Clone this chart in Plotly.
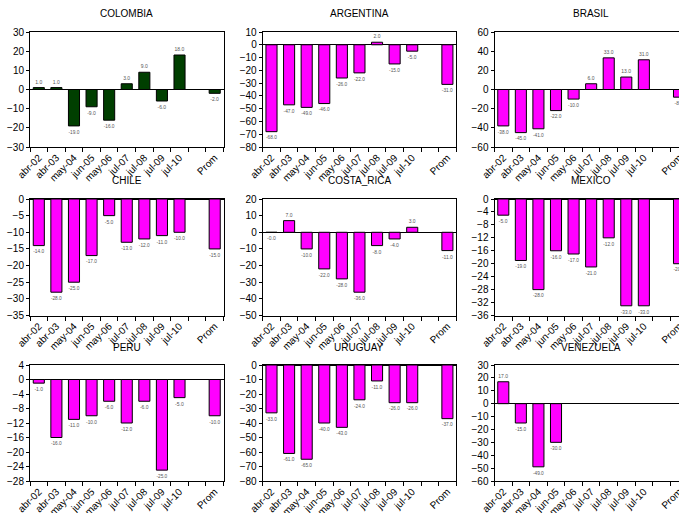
import plotly.graph_objects as go

# categorias (la vacia deja el hueco antes del promedio)
cats = ["abr-02", "abr-03", "may-04", "jun-05", "may-06", "jul-07", "jul-08", "jul-09", "jul-10", " ", "Prom"]

colombia = [1.0, 1.0, -19.0, -9.0, -16.0, 3.0, 9.0, -6.0, 18.0, None, -2.0]
argentina = [-68.0, -47.0, -49.0, -46.0, -26.0, -22.0, 2.0, -15.0, -5.0, None, -31.0]
brasil = [-38.0, -45.0, -41.0, -22.0, -10.0, 6.0, 33.0, 13.0, 31.0, None, -8.0]
chile = [-14.0, -28.0, -25.0, -17.0, -5.0, -13.0, -12.0, -11.0, -10.0, None, -15.0]
costa_rica = [-0.04, 7.0, -10.0, -22.0, -28.0, -36.0, -8.0, -4.0, 3.0, None, -11.0]
mexico = [-5.0, -19.0, -28.0, -16.0, -17.0, -21.0, -12.0, -33.0, -33.0, None, -20.0]
peru = [-1.0, -16.0, -11.0, -10.0, -6.0, -12.0, -6.0, -25.0, -5.0, None, -10.0]
uruguay = [-33.0, -61.0, -65.0, -40.0, -43.0, -24.0, -11.0, -26.0, -26.0, None, -37.0]
venezuela = [17.0, -15.0, -49.0, -30.0, None, None, None, None, None, None, None]

paises = ["COLOMBIA", "ARGENTINA", "BRASIL", "CHILE", "COSTA_RICA", "MEXICO", "PERU", "URUGUAY", "VENEZUELA"]
series = [colombia, argentina, brasil, chile, costa_rica, mexico, peru, uruguay, venezuela]
yrangos = [(-30, 30, 10), (-80, 10, 10), (-60, 60, 20),
           (-35, 0, 5), (-50, 20, 10), (-36, 0, 4),
           (-28, 4, 4), (-80, 0, 10), (-60, 30, 10)]

W, H = 679, 513
col_left = [30, 262.7, 494.5]
col_w = 193.5
row_top = [32, 199, 365]
row_bot = [147, 315.5, 481]
title_y = [13, 180, 347]

fig = go.Figure()
font = "Liberation Sans, Arial, sans-serif"

for i, (nombre, vals) in enumerate(zip(paises, series)):
    r, c = divmod(i, 3)
    n = i + 1
    xa = "x" if n == 1 else f"x{n}"
    ya = "y" if n == 1 else f"y{n}"
    color = "#003f00" if nombre == "COLOMBIA" else "#ff00ff"
    textos = ["" if v is None else f"{v:.1f}" for v in vals]
    fig.add_trace(go.Bar(
        x=cats, y=vals, xaxis=xa, yaxis=ya, width=0.63,
        marker=dict(color=color, line=dict(color="black", width=1)),
        text=textos, textposition="outside", cliponaxis=False,
        textfont=dict(size=5, color="#555555", family=font),
        showlegend=False,
    ))

    x0 = col_left[c] / W
    x1 = 1.0 if c == 2 else (col_left[c] + col_w) / W
    y0 = 1 - row_bot[r] / H
    y1 = 1 - row_top[r] / H
    lo, hi, dt = yrangos[i]
    xkey = "xaxis" if n == 1 else f"xaxis{n}"
    ykey = "yaxis" if n == 1 else f"yaxis{n}"
    fig.update_layout({
        xkey: dict(domain=[x0, x1], anchor=ya, type="category",
                   categoryorder="array", categoryarray=cats,
                   range=[-0.5, 10.0] if c == 2 else [-0.5, 10.5],
                   automargin=False,
                   tickson="boundaries", ticks="outside", ticklen=4,
                   tickcolor="black", tickangle=-45, showgrid=False,
                   showline=True, linecolor="black", linewidth=1, mirror=True,
                   tickfont=dict(size=10, color="black", family=font)),
        ykey: dict(domain=[y0, y1], anchor=xa, range=[lo, hi], dtick=dt,
                   tick0=0, ticks="outside", ticklen=3, tickcolor="black",
                   automargin=False,
                   showgrid=False, zeroline=True, zerolinecolor="black",
                   zerolinewidth=1, showline=True, linecolor="black",
                   linewidth=1, mirror=(c != 2),
                   tickfont=dict(size=10, color="black", family=font)),
    })
    cx = (col_left[c] + col_w / 2) / W
    fig.add_annotation(text=nombre, x=cx, y=1 - title_y[r] / H, xref="paper",
                       yref="paper", showarrow=False, xanchor="center",
                       yanchor="middle",
                       font=dict(size=10, color="black", family=font))

fig.update_layout(width=W, height=H, autosize=False,
                  margin=dict(l=0, r=0, t=0, b=0, autoexpand=False),
                  paper_bgcolor="white", plot_bgcolor="white",
                  bargap=0.37)

# quitar el margen por defecto del body para que la figura llene la ventana
fig.write_html("out.html", config={"displayModeBar": False},
               post_script="document.body.style.margin='0px';")
